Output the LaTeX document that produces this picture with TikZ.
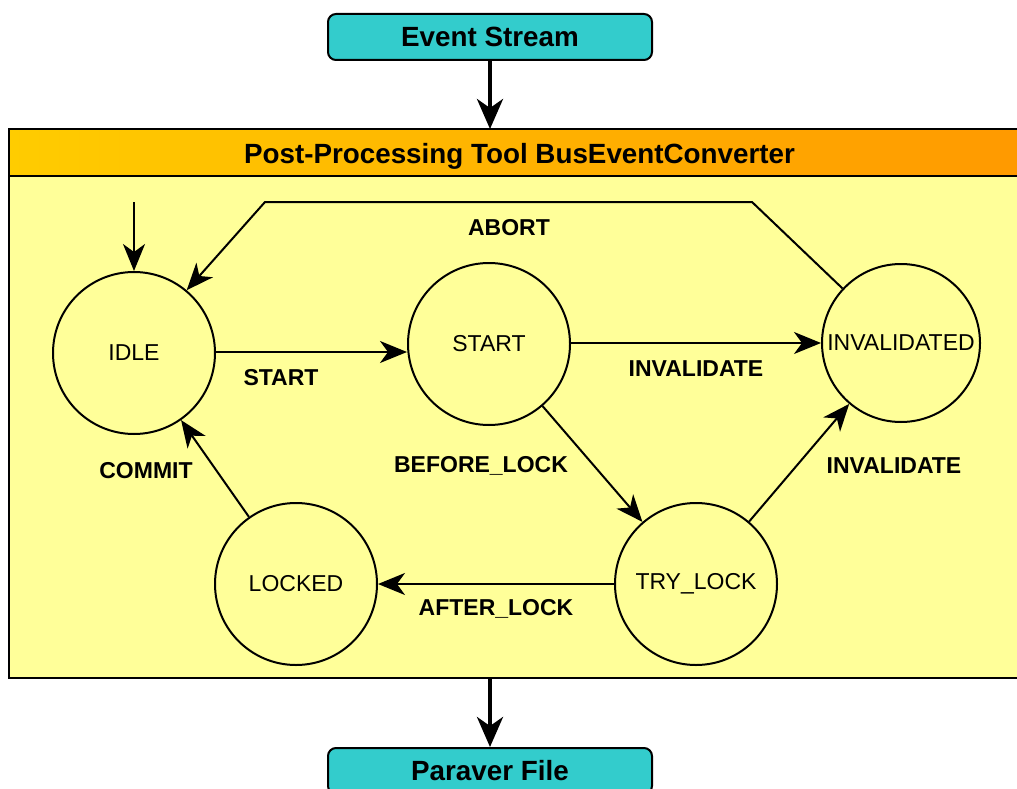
\documentclass[tikz,border=0pt]{standalone}
\usepackage{fontspec}
\setmainfont{Liberation Sans}
\usetikzlibrary{arrows.meta}
\definecolor{boxteal}{HTML}{33CCCC}
\definecolor{bodyyellow}{HTML}{FFFF99}
\definecolor{headleft}{HTML}{FFCC00}
\definecolor{headright}{HTML}{FF9900}
\tikzset{
  state/.style={circle,draw,line width=2pt,fill=bodyyellow,minimum size=162pt,inner sep=0pt,
    font=\fontsize{23}{27}\selectfont},
  iobox/.style={rectangle,rounded corners=8pt,draw,line width=2pt,fill=boxteal,
    minimum width=324pt,minimum height=46pt,font=\fontsize{27.8}{32}\selectfont\bfseries},
  trans/.style={line width=2pt,-{Stealth[length=27pt,width=22pt,inset=8pt]}},
  flow/.style={line width=4pt,-{Stealth[length=30pt,width=26pt,inset=9pt]}},
  lbl/.style={font=\fontsize{23}{27}\selectfont\bfseries,inner sep=0pt},
}
\begin{document}
\begin{tikzpicture}[x=1pt,y=-1pt]
\useasboundingbox (0,0) rectangle (1017,789);
\clip (0,0) rectangle (1017,789);

% container with gradient header
\draw[line width=2pt,fill=bodyyellow] (9,129) rectangle (1030,678);
\shade[left color=headleft,right color=headright] (9,129) rectangle (1030,176);
\draw[line width=2pt] (9,176) -- (1030,176);
\draw[line width=2pt] (9,678) -- (9,129) -- (1030,129);
\node[lbl,font=\fontsize{27.8}{32}\selectfont\bfseries] (title) at (519.5,156) {Post-Processing Tool BusEventConverter};

% input and output
\node[iobox] (events) at (490,37) {\raisebox{-2pt}{Event Stream}};
\node[iobox] (paraver) at (490,771) {\raisebox{-2pt}{Paraver File}};
\coordinate (ctop) at (490,129);
\coordinate (cbot) at (490,678);
\draw[flow] (events.south) -- (ctop);
\draw[flow] (cbot) -- (paraver.north);

% states
\node[state] (idle) at (134,353) {IDLE};
\node[state] (start) at (489,344) {START};
\node[state,minimum size=158pt] (invalid) at (901,343) {INVALIDATED};
\node[state] (try) at (696,584) {TRY\_LOCK};
\node[state] (locked) at (296,584) {LOCKED};

% transitions
\coordinate (init) at (134,202);
\draw[trans] (init) -- (idle.north);
\draw[trans] (idle.east |- 0,352) -- (start.west |- 0,352);
\draw[trans] (start.east |- 0,343) -- (invalid.west |- 0,343);
\draw[trans] (start) -- (try);
\draw[trans] (try) -- (invalid);
\draw[trans] (try.west) -- (locked.east);
\draw[trans] (locked) -- (idle);
\coordinate (abr) at (752,202);
\coordinate (abl) at (265,202);
\draw[trans] (invalid.137) -- (abr) -- (abl) -- (idle.50);

% transition labels
\node[lbl] (lstart) at (281,378) {START};
\node[lbl] (linv1) at (696,369) {INVALIDATE};
\node[lbl] (lbefore) at (481,466) {BEFORE\_LOCK};
\node[lbl] (linv2) at (894,466) {INVALIDATE};
\node[lbl] (lafter) at (496,609) {AFTER\_LOCK};
\node[lbl] (lcommit) at (146,471) {COMMIT};
\node[lbl] (labort) at (509,228) {ABORT};
\end{tikzpicture}
\end{document}
